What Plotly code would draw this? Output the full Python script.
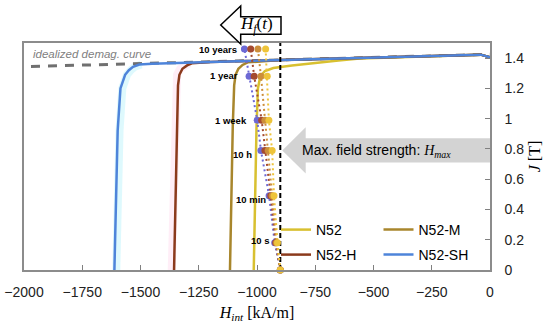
import plotly.graph_objects as go

# ---------------- data ----------------
grades = ["N52", "N52-M", "N52-H", "N52-SH"]

# grade-specific lower branch of the demagnetisation curves (H in kA/m, J in T)
branch_H = {
    "N52":    [-1014, -1008, -1002, -996, -986, -966, -930, -850, -750, -650, -560],
    "N52-M":  [-1116, -1110, -1104, -1098, -1092, -1080, -1062, -1040],
    "N52-H":  [-1356, -1350, -1344, -1339, -1333, -1320, -1300, -1280],
    "N52-SH": [-1612, -1605, -1598, -1586, -1566, -1550, -1532, -1505],
}
branch_J = {
    "N52":    [0.0, 0.5, 0.95, 1.2, 1.28, 1.315, 1.335, 1.352, 1.37, 1.385, 1.397],
    "N52-M":  [0.0, 0.5, 0.95, 1.22, 1.29, 1.33, 1.355, 1.372],
    "N52-H":  [0.0, 0.5, 0.95, 1.22, 1.29, 1.33, 1.352, 1.366],
    "N52-SH": [0.0, 0.5, 0.92, 1.2, 1.29, 1.32, 1.343, 1.358],
}
# common upper branch
top_H = [-1450, -1200, -900, -600, -300, -40, 0]
top_J = [1.363, 1.374, 1.387, 1.399, 1.412, 1.423, 1.405]

# idealized demagnetisation curve
ideal_H = [-1970, 0]
ideal_J = [1.345, 1.425]

# maximum field strength
H_max = -900

# time evolution of the fluctuation field H_f(t)
time_labels = ["10 s", "10 min", "10 h", "1 week", "1 year", "10 years"]
time_J = [0.0, 0.18, 0.49, 0.79, 0.99, 1.28, 1.46]
drift_H = {
    "N52":    [-900, -912, -927, -935, -949, -956, -963],
    "N52-M":  [-900, -916, -935, -952, -966, -983, -996],
    "N52-H":  [-900, -920, -941, -966, -980, -1012, -1027],
    "N52-SH": [-900, -924, -948, -983, -999, -1034, -1054],
}
label_H = [-936, -953, -1013, -1034, -1073, -1077]
label_J = [0.198, 0.469, 0.76, 0.991, 1.282, 1.46]

x_ticks = [-2000, -1750, -1500, -1250, -1000, -750, -500, -250, 0]
y_ticks = [0, 0.2, 0.4, 0.6, 0.8, 1.0, 1.2, 1.4]
y_ticktext = ["0", "0.2", "0.4", "0.6", "0.8", "1", "1.2", "1.4"]

# ---------------- styles ----------------
curve_colors = {"N52": "#D8C030", "N52-M": "#A8862C", "N52-H": "#8B3A1C", "N52-SH": "#4E84DA"}
drift_colors = {"N52": "#EEC43A", "N52-M": "#CC8E3A", "N52-H": "#A44A30", "N52-SH": "#6C68D4"}
legend_ids = {"N52": "legend", "N52-M": "legend2", "N52-H": "legend3", "N52-SH": "legend4"}

W, H = 550, 325
ML, MR, MT, MB = 24, 60, 43, 55
PW, PH = W - ML - MR, H - MT - MB


def px(xp):
    return (xp - ML) / PW


def py(yp):
    return (H - MB - yp) / PH


fig = go.Figure()

# faint bands along N52-SH and N52-H
fig.add_trace(go.Scatter(x=[h + 8 for h in branch_H["N52-SH"]], y=branch_J["N52-SH"], mode="lines",
                         line=dict(color="rgba(160,238,250,0.35)", width=8),
                         showlegend=False, hoverinfo="skip"))
fig.add_trace(go.Scatter(x=[h - 10 for h in branch_H["N52-H"]], y=branch_J["N52-H"], mode="lines",
                         line=dict(color="rgba(255,200,230,0.3)", width=8),
                         showlegend=False, hoverinfo="skip"))

# idealized curve
fig.add_trace(go.Scatter(x=ideal_H, y=ideal_J, mode="lines",
                         line=dict(color="#707070", width=3, dash="9px,8px"),
                         showlegend=False, hoverinfo="skip"))

# demagnetisation curves
for g in grades:
    hs = branch_H[g] + [h for h in top_H if h > branch_H[g][-1]]
    js = branch_J[g] + [j for h, j in zip(top_H, top_J) if h > branch_H[g][-1]]
    fig.add_trace(go.Scatter(x=hs, y=js, mode="lines", name=g,
                             line=dict(color=curve_colors[g], width=2.5),
                             legend=legend_ids[g]))

# H_max dashed line
fig.add_trace(go.Scatter(x=[H_max, H_max], y=[0, 1.5], mode="lines",
                         line=dict(color="black", width=2, dash="5px,3px"),
                         showlegend=False, hoverinfo="skip"))

# drift of H_f(t): dotted lines (clipped) and markers (unclipped)
for g in reversed(grades):
    fig.add_trace(go.Scatter(x=drift_H[g], y=time_J, mode="lines",
                             line=dict(color=drift_colors[g], width=2, dash="2px,3px"),
                             showlegend=False, hoverinfo="skip"))
for g in reversed(grades):
    fig.add_trace(go.Scatter(x=drift_H[g], y=time_J, mode="markers",
                             marker=dict(color=drift_colors[g], size=7),
                             cliponaxis=False, showlegend=False, hoverinfo="skip"))

annotations = []
for lab, lh, lj in zip(time_labels, label_H, label_J):
    annotations.append(dict(x=lh, y=lj, xref="x", yref="y", text="<b>" + lab + "</b>",
                            showarrow=False, xanchor="right", yanchor="middle",
                            font=dict(family="Liberation Sans", size=9.5, color="black")))

annotations.append(dict(x=px(31), y=py(54), xref="paper", yref="paper",
                        text="<i>idealized demag. curve</i>", showarrow=False,
                        xanchor="left", yanchor="middle",
                        font=dict(family="Liberation Sans", size=11.5, color="#808080")))

annotations.append(dict(x=px(256), y=py(25), xref="paper", yref="paper",
                        text="<i>H</i><sub><i>f</i></sub>(<i>t</i>)", showarrow=False,
                        xanchor="center", yanchor="middle",
                        font=dict(family="Liberation Serif", size=17, color="black")))

annotations.append(dict(x=px(300), y=py(151), xref="paper", yref="paper",
                        text='Max. field strength: <span style="font-family:Liberation Serif"><i>H</i><sub><i>max</i></sub></span>',
                        showarrow=False, xanchor="left", yanchor="middle",
                        font=dict(family="Liberation Sans", size=14, color="black")))

# arrow shapes (in pixels converted to paper)
hf_pts = [(220.7, 25), (240.7, 6), (240.7, 16.7), (281, 16.7), (281, 34.3), (240.7, 34.3), (240.7, 44)]
hf_path = "M " + " L ".join(f"{px(a):.4f},{py(b):.4f}" for a, b in hf_pts) + " Z"
mx_pts = [(282.3, 150.5), (305.7, 127.3), (305.7, 138.3), (490, 138.3), (490, 162.5), (305.7, 162.5), (305.7, 173.5)]
mx_path = "M " + " L ".join(f"{px(a):.4f},{py(b):.4f}" for a, b in mx_pts) + " Z"

shapes = [
    dict(type="path", path=mx_path, xref="paper", yref="paper", fillcolor="#D3D3D3",
         line=dict(width=0), layer="below"),
    dict(type="path", path=hf_path, xref="paper", yref="paper", fillcolor="white",
         line=dict(color="black", width=1.5), layer="above"),
]

leg_common = dict(bgcolor="rgba(0,0,0,0)", orientation="h", xanchor="left", yanchor="middle",
                  font=dict(family="Liberation Sans", size=14, color="black"),
                  itemwidth=30, borderwidth=0)
col1, col2 = px(316 - 40), px(418.5 - 40)
row1, row2 = py(230), py(255)

fig.update_layout(
    width=W, height=H, autosize=False,
    margin=dict(l=ML, r=MR, t=MT, b=MB, pad=0, autoexpand=False),
    paper_bgcolor="white", plot_bgcolor="white",
    shapes=shapes, annotations=annotations,
    legend=dict(x=col1, y=row1, **leg_common),
    legend2=dict(x=col2, y=row1, **leg_common),
    legend3=dict(x=col1, y=row2, **leg_common),
    legend4=dict(x=col2, y=row2, **leg_common),
    xaxis=dict(range=[-2000, 0], tickvals=x_ticks, ticks="inside", ticklen=5, tickwidth=1,
               tickcolor="#808080", showline=True, linecolor="#8C8C8C", linewidth=1.5,
               mirror=True, showgrid=False, zeroline=False, ticklabelstandoff=8,
               automargin=False,
               tickfont=dict(family="Liberation Sans", size=14, color="#222222"),
               title=dict(text="<i>H</i><sub><i>int</i></sub> [kA/m]", standoff=8,
                          font=dict(family="Liberation Serif", size=16, color="black"))),
    yaxis=dict(range=[0, 1.5], side="right", tickvals=y_ticks, ticktext=y_ticktext,
               ticks="inside", ticklen=5, tickwidth=1, tickcolor="#808080",
               showline=True, linecolor="#8C8C8C", linewidth=1.5, mirror=True,
               showgrid=False, zeroline=False, ticklabelstandoff=10,
               automargin=False,
               tickfont=dict(family="Liberation Sans", size=14, color="#222222"),
               title=dict(text="<i>J</i> [T]", standoff=6,
                          font=dict(family="Liberation Serif", size=16, color="black"))),
)

fig.write_html("out.html", config={"displayModeBar": False},
               post_script="document.body.style.margin='0px';document.body.style.overflow='hidden';")
